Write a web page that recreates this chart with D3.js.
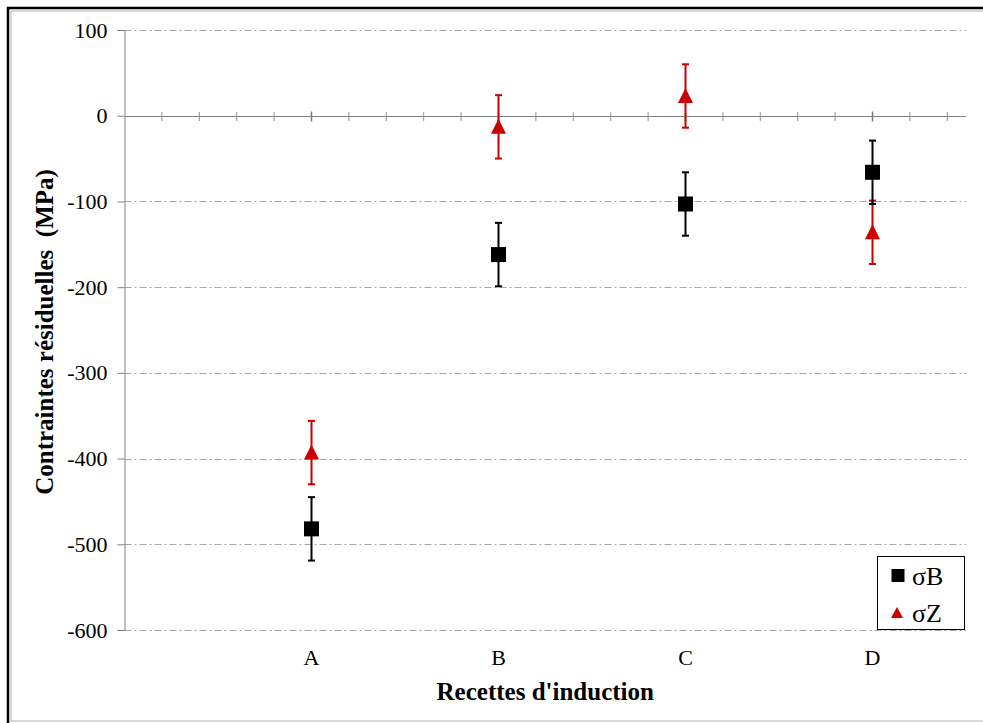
<!DOCTYPE html>
<html><head><meta charset="utf-8">
<script src="https://cdn.jsdelivr.net/npm/d3@7"></script>
<style>
html,body{margin:0;padding:0;background:#fff;}
svg{display:block;}
text{font-family:"Liberation Serif","Times New Roman",serif;}
</style></head>
<body>
<script>
const categories = ["A","B","C","D"];
const categoryPositions = [1,2,3,4];
const sigmaB = [-482, -162, -103, -66];
const sigmaBErr = [37, 37, 37, 37];
const sigmaZ = [-393, -13, 23, -136];
const sigmaZErr = [37, 37, 37, 37];
const yTicks = [100, 0, -100, -200, -300, -400, -500, -600];
const seriesNames = ["σB", "σZ"];

const W = 983, H = 723;
const svg = d3.select("body").append("svg").attr("width", W).attr("height", H);

// frame
svg.append("rect").attr("x", 8).attr("y", 8).attr("width", 990).attr("height", 730)
  .attr("fill", "none").attr("stroke", "#000").attr("stroke-width", 2.5);
svg.append("rect").attr("x", 11).attr("y", 11).attr("width", 990).attr("height", 710)
  .attr("fill", "none").attr("stroke", "#b0b0b0").attr("stroke-width", 1);

const x = d3.scaleLinear().domain([0, 4.5]).range([124.5, 966]);
const y = d3.scaleLinear().domain([-600, 100]).range([630, 30]);

// grid
svg.append("g").selectAll("line").data(yTicks.filter(d => d !== 0)).join("line")
  .attr("x1", x(0)).attr("x2", x(4.5))
  .attr("y1", d => Math.round(y(d)) + 0.5).attr("y2", d => Math.round(y(d)) + 0.5)
  .attr("stroke", "#a6a6a6").attr("stroke-width", 1)
  .attr("stroke-dasharray", "7,3,2,3");

// y axis
const yAxis = d3.axisLeft(y).tickValues(yTicks).tickSize(7).tickPadding(10).tickFormat(d => String(d));
const gy = svg.append("g").attr("transform", `translate(${x(0)},0)`).call(yAxis)
  .attr("font-family", "'Liberation Serif', serif");
gy.select(".domain").attr("stroke", "#808080");
gy.selectAll(".tick line").attr("stroke", "#808080");
gy.selectAll(".tick text").attr("font-size", 22).attr("fill", "#000");

// x axis at y = 0 with crossing ticks
const y0 = Math.round(y(0)) + 0.5;
svg.append("line").attr("x1", x(0)).attr("x2", x(4.5)).attr("y1", y0).attr("y2", y0)
  .attr("stroke", "#808080").attr("stroke-width", 1.2);
const minorTicks = d3.range(1, 23).map(i => i * 0.2);
const isMajor = d => Math.abs(d - Math.round(d)) < 1e-6;
svg.append("g").selectAll("line").data(minorTicks).join("line")
  .attr("x1", d => x(d)).attr("x2", d => x(d))
  .attr("y1", d => isMajor(d) ? y0 - 5 : y0 - 4.5)
  .attr("y2", d => isMajor(d) ? y0 + 5 : y0 + 4.5)
  .attr("stroke", d => isMajor(d) ? "#777" : "#909090")
  .attr("stroke-width", d => isMajor(d) ? 1.5 : 1);

// category labels
svg.append("g").selectAll("text").data(categories).join("text")
  .attr("x", (d, i) => x(categoryPositions[i])).attr("y", 665)
  .attr("text-anchor", "middle").attr("font-size", 22).text(d => d);

// axis titles
svg.append("text").attr("x", (x(0) + x(4.5)) / 2).attr("y", 700)
  .attr("text-anchor", "middle").attr("font-size", 25).attr("font-weight", "bold")
  .text("Recettes d'induction");
svg.append("text").attr("transform", `translate(53,${(y(100) + y(-600)) / 2 + 2}) rotate(-90)`)
  .attr("text-anchor", "middle").attr("font-size", 25).attr("font-weight", "bold")
  .attr("xml:space", "preserve").style("white-space", "pre")
  .text("Contraintes résiduelles  (MPa)");

function drawSeries(vals, errs, color, shape) {
  const g = svg.append("g");
  const data = vals.map((v, i) => ({x: categoryPositions[i], v, e: errs[i]}));
  g.selectAll("line.err").data(data).join("line")
    .attr("x1", d => x(d.x)).attr("x2", d => x(d.x))
    .attr("y1", d => y(d.v + d.e)).attr("y2", d => y(d.v - d.e))
    .attr("stroke", color).attr("stroke-width", 2);
  [1, -1].forEach(s => {
    g.selectAll("line.cap" + s).data(data).join("line")
      .attr("x1", d => x(d.x) - 3.5).attr("x2", d => x(d.x) + 3.5)
      .attr("y1", d => y(d.v + s * d.e)).attr("y2", d => y(d.v + s * d.e))
      .attr("stroke", color).attr("stroke-width", 2);
  });
  if (shape === "square") {
    g.selectAll("rect").data(data).join("rect")
      .attr("x", d => x(d.x) - 7.5).attr("y", d => y(d.v) - 7.5)
      .attr("width", 15).attr("height", 15).attr("fill", color);
  } else {
    g.selectAll("path").data(data).join("path")
      .attr("d", d => {
        const cx = x(d.x), cy = y(d.v);
        return `M${cx},${cy - 8}L${cx + 7.5},${cy + 7}L${cx - 7.5},${cy + 7}Z`;
      })
      .attr("fill", color);
  }
}
drawSeries(sigmaZ, sigmaZErr, "#cc0000", "triangle");
drawSeries(sigmaB, sigmaBErr, "#000000", "square");

// legend
const lg = svg.append("g");
lg.append("rect").attr("x", 877.5).attr("y", 556.5).attr("width", 87).attr("height", 73)
  .attr("fill", "#fff").attr("stroke", "#000").attr("stroke-width", 1);
lg.append("rect").attr("x", 891.5).attr("y", 569).attr("width", 13).attr("height", 13).attr("fill", "#000");
lg.append("path").attr("d", "M897,607L903,618L891,618Z").attr("fill", "#cc0000");
lg.append("text").attr("x", 912).attr("y", 585).attr("font-size", 26).text(seriesNames[0]);
lg.append("text").attr("x", 912).attr("y", 622).attr("font-size", 26).text(seriesNames[1]);
</script>
</body></html>
